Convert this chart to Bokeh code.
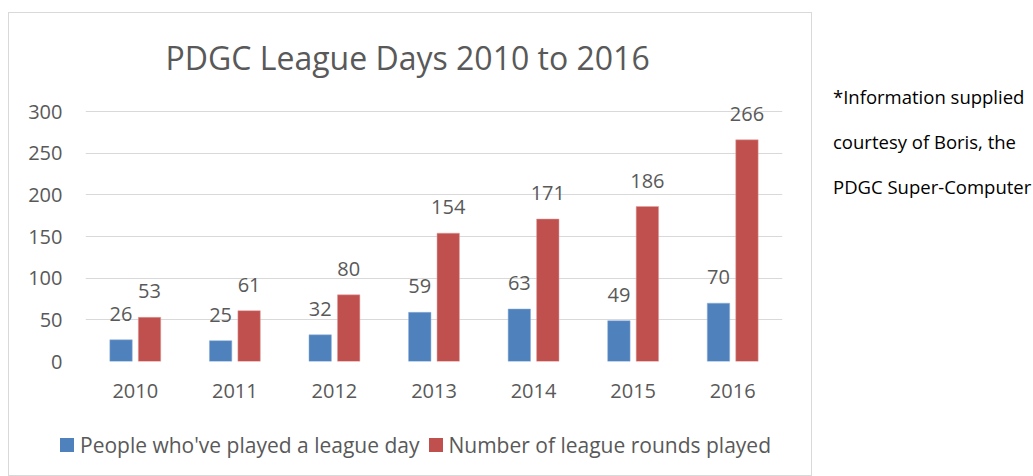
from bokeh.plotting import figure
from bokeh.models import ColumnDataSource, FactorRange, Range1d, FixedTicker
from bokeh.transform import dodge
from bokeh.core.properties import value
from bokeh.embed import file_html
from bokeh.resources import INLINE

years = ["2010", "2011", "2012", "2013", "2014", "2015", "2016"]
people = [26, 25, 32, 59, 63, 49, 70]
rounds = [53, 61, 80, 154, 171, 186, 266]
y_ticks = [0, 50, 100, 150, 200, 250, 300]
title_text = "PDGC League Days 2010 to 2016"
note_lines = ["*Information supplied", "courtesy of Boris, the", "PDGC Super-Computer"]
series_names = ["People who've played a league day", "Number of league rounds played"]

BLUE = "#4f81bd"
RED = "#c0504d"
GREY = "#595959"
FONT = "Open Sans"

src = ColumnDataSource(dict(
    year=years, people=people, rounds=rounds,
    people_txt=[str(v) for v in people], rounds_txt=[str(v) for v in rounds],
))

p = figure(frame_width=697, frame_height=265, x_range=FactorRange(*years), y_range=Range1d(0, 318),
           output_backend="svg", toolbar_location=None, name="chart",
           min_border_left=76, min_border_right=29, min_border_top=83, min_border_bottom=114)
p.outline_line_color = None
p.background_fill_color = "white"
p.border_fill_color = "white"

r1 = p.vbar(x=dodge("year", -0.143, range=p.x_range), top="people", width=0.225, source=src,
            fill_color=BLUE, line_color="#8fb0d8", line_width=0.5)
r2 = p.vbar(x=dodge("year", 0.143, range=p.x_range), top="rounds", width=0.225, source=src,
            fill_color=RED, line_color="#e0a09e", line_width=0.5)

p.text(x=dodge("year", -0.143, range=p.x_range), y="people", text="people_txt", source=src,
       text_align="center", text_baseline="alphabetic", y_offset=-26,
       text_font=value(FONT), text_font_size="20px", text_color=GREY)
p.text(x=dodge("year", 0.143, range=p.x_range), y="rounds", text="rounds_txt", source=src,
       text_align="center", text_baseline="alphabetic", y_offset=-26,
       text_font=value(FONT), text_font_size="20px", text_color=GREY)

# title
p.title.text = title_text
p.title.align = "left"
p.title.offset = 80
p.title.standoff = 36
p.title.text_font = FONT
p.title.text_font_size = "32px"
p.title.text_font_style = "normal"
p.title.text_color = GREY

# axes
p.xgrid.grid_line_color = None
p.ygrid.grid_line_color = "#d9d9d9"
p.ygrid.grid_line_width = 1
p.yaxis.ticker = FixedTicker(ticks=y_ticks)
for ax in (p.xaxis[0], p.yaxis[0]):
    ax.axis_line_color = None
    ax.major_tick_line_color = None
    ax.minor_tick_line_color = None
    ax.major_tick_out = 0
    ax.major_tick_in = 0
    ax.major_label_text_font = FONT
    ax.major_label_text_font_size = "20px"
    ax.major_label_text_color = GREY
p.xaxis.major_label_standoff = 22
p.yaxis.major_label_standoff = 23
p.x_range.range_padding = 0
p.x_range.group_padding = 0

TEMPLATE = """
{% block contents %}
<div style="position:absolute; left:8px; top:12px; width:802px; height:462px; border:1px solid #d9d9d9; overflow:hidden;">
{{ embed(roots.chart) }}
</div>
<div style="position:absolute; left:60px; top:431px; height:28px; display:flex; align-items:center; font-family:'Open Sans', sans-serif; font-size:21px; color:#595959; white-space:nowrap;">
<span style="display:inline-block; width:14px; height:14px; background:{{ c1 }}; margin-right:6px;"></span><span>{{ s1 }}</span>
<span style="display:inline-block; width:14px; height:14px; background:{{ c2 }}; margin-left:10px; margin-right:5px;"></span><span>{{ s2 }}</span>
</div>
<div style="position:absolute; left:833px; top:74px; font-family:'Open Sans', sans-serif; font-size:18.5px; line-height:45px; color:#000000; white-space:nowrap;">
{{ note_html }}
</div>
{% endblock %}
"""

html = file_html(p, INLINE, title=title_text, template=TEMPLATE,
                 template_variables={"note_html": "<br>".join(note_lines),
                                     "s1": series_names[0], "s2": series_names[1],
                                     "c1": BLUE, "c2": RED})
open("out.html", "w").write(html)
